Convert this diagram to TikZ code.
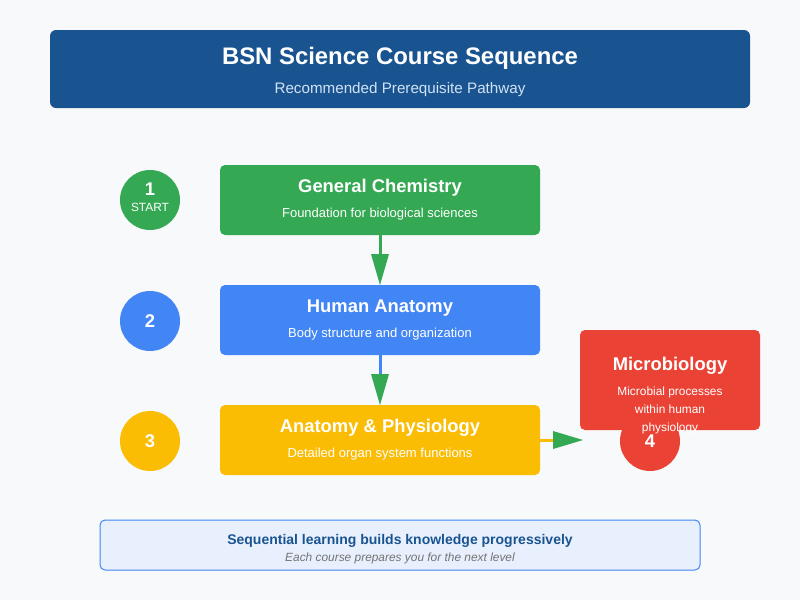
\documentclass[tikz,border=0pt]{standalone}
\usepackage{fontspec}
\setmainfont{Liberation Sans}
\usetikzlibrary{arrows.meta}
\definecolor{hdr}{HTML}{1A5490}
\definecolor{gr}{HTML}{34A853}
\definecolor{bl}{HTML}{4285F4}
\definecolor{ye}{HTML}{FBBC04}
\definecolor{rd}{HTML}{EA4335}
\definecolor{bg}{HTML}{F8F9FA}
\definecolor{lb}{HTML}{E8F0FE}
\definecolor{sub}{HTML}{D0E2F7}
\begin{document}
\begin{tikzpicture}[x=1pt,y=-1pt,
  box/.style={rounded corners=5pt,draw=none},
  num/.style={circle,minimum size=60pt,inner sep=0pt,text=white,font=\bfseries\fontsize{18.4}{19}\selectfont},
  ttl/.style={text=white,font=\bfseries\fontsize{18.4}{19}\selectfont},
  st/.style={text=white,font=\fontsize{13}{14}\selectfont},
  arr/.style={line width=3pt,-{Triangle[length=17pt,width=17pt]}}]
\fill[bg] (0,0) rectangle (800,600);
\useasboundingbox (0,0) rectangle (800,600);
\fill[hdr,rounded corners=6pt] (50,30) rectangle (750,108);
\node[text=white,font=\bfseries\fontsize{23.9}{25}\selectfont] (t) at (400,58) {BSN Science Course Sequence};
\node[text=sub,font=\fontsize{15.2}{16}\selectfont] (s) at (400,90) {Recommended Prerequisite Pathway};
\node[num,fill=gr] (c1) at (150,200) {};
\node[text=white,font=\bfseries\fontsize{18.4}{19}\selectfont] (n1) at (150,189) {1};
\node[text=white,font=\fontsize{11.9}{12}\selectfont] (n1s) at (150,207) {START};
\node[num,fill=bl] (c2) at (150,321) {2};
\node[num,fill=ye] (c3) at (150,441) {3};
\fill[gr,box] (220,165) rectangle (540,235);
\fill[bl,box] (220,285) rectangle (540,355);
\fill[ye,box] (220,405) rectangle (540,475);
\coordinate (b1) at (380,235); \coordinate (b2t) at (380,285);
\coordinate (b2) at (380,355); \coordinate (b3t) at (380,405);
\coordinate (b3) at (540,440); \coordinate (mt) at (583,440);
\draw[gr,line width=3pt] (b1) -- (380,255);
\draw[bl,line width=3pt] (b2) -- (380,375);
\draw[ye,line width=3pt] (b3) -- (556,440);
\fill[gr] (371,254) -- (389,254) -- (b2t) -- cycle;
\fill[gr] (371,374) -- (389,374) -- (b3t) -- cycle;
\fill[gr] (553,431) -- (553,449) -- (mt) -- cycle;
\node[ttl] (t1) at (380,188) {General Chemistry};
\node[st] (s1) at (380,214) {Foundation for biological sciences};
\node[ttl] (t2) at (380,308) {Human Anatomy};
\node[st] (s2) at (380,334) {Body structure and organization};
\node[ttl] (t3) at (380,428) {Anatomy \& Physiology};
\node[st] (s3) at (380,454) {Detailed organ system functions};
\fill[rd,box] (580,330) rectangle (760,430);
\node[num,fill=rd] (c4) at (650,441) {4};
\node[ttl] (t4) at (670,366) {Microbiology};
\node[text=white,align=center,font=\fontsize{11.9}{18}\selectfont] (s4) at (670,410) {Microbial processes\\within human\\physiology};
\draw[bl,fill=lb,line width=1pt,rounded corners=5pt] (100,520) rectangle (700,570);
\node[text=hdr,font=\bfseries\fontsize{14}{15}\selectfont] (f1) at (400,541) {Sequential learning builds knowledge progressively};
\node[text=gray!90!black,font=\itshape\fontsize{11.9}{12}\selectfont] (f2) at (400,558) {Each course prepares you for the next level};
\end{tikzpicture}
\end{document}
